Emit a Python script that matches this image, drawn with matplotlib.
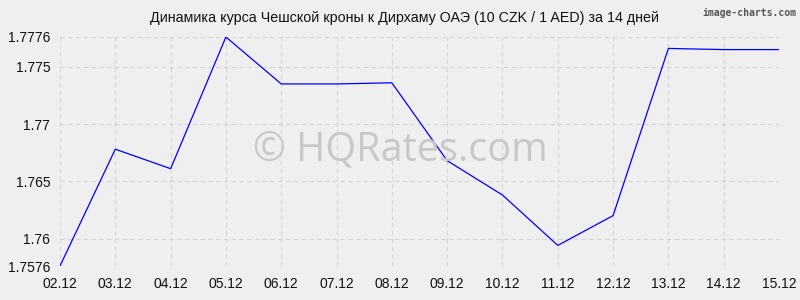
import matplotlib
matplotlib.use("Agg")
import matplotlib.pyplot as plt

dates = ["02.12", "03.12", "04.12", "05.12", "06.12", "07.12", "08.12",
         "09.12", "10.12", "11.12", "12.12", "13.12", "14.12", "15.12"]
rates = [1.7576, 1.7678, 1.7661, 1.7776, 1.7735, 1.7735, 1.7736,
         1.7668, 1.7638, 1.7594, 1.7620, 1.7766, 1.7765, 1.7765]
y_ticks = [1.7576, 1.76, 1.765, 1.77, 1.775, 1.7776]
y_labels = ["1.7576", "1.76", "1.765", "1.77", "1.775", "1.7776"]

plt.rcParams['font.family'] = ['Liberation Sans', 'DejaVu Sans']

bg = '#efefef'
fig = plt.figure(figsize=(8, 3), dpi=100)
fig.patch.set_facecolor(bg)
ax = fig.add_axes([0.075, 0.1133, 0.89875, 0.7634])
ax.set_facecolor(bg)

x = list(range(len(dates)))
ax.plot(x, rates, color='#0000ff', lw=0.9, zorder=3)

ax.set_xlim(0, len(dates) - 1)
ax.set_ylim(y_ticks[0], y_ticks[-1])
ax.set_xticks(x)
ax.set_xticklabels(dates)
ax.set_yticks(y_ticks)
ax.set_yticklabels(y_labels)
ax.tick_params(length=0, labelsize=10, colors='#111111')
ax.tick_params(axis='x', pad=8)
ax.tick_params(axis='y', pad=7)
ax.grid(True, color='#d4d4d4', linestyle=(0, (4, 3)), lw=0.8)
for s in ax.spines.values():
    s.set_visible(False)

# watermark
fig.text(0.5, 0.5, "© HQRates.com", ha='center', va='center', fontsize=28.5,
         color='#c8c8c8', family='Open Sans', zorder=1)

fig.text(0.506, 0.94, "Динамика курса Чешской кроны к Дирхаму ОАЭ (10 CZK / 1 AED) за 14 дней",
         ha='center', va='center', fontsize=10.3, color='#111111')
fig.text(0.995, 0.975, "image-charts.com", ha='right', va='top', fontsize=7,
         color='#555555', family='DejaVu Sans Mono', weight='bold')

fig.savefig("out.png", dpi=100, facecolor=bg)
